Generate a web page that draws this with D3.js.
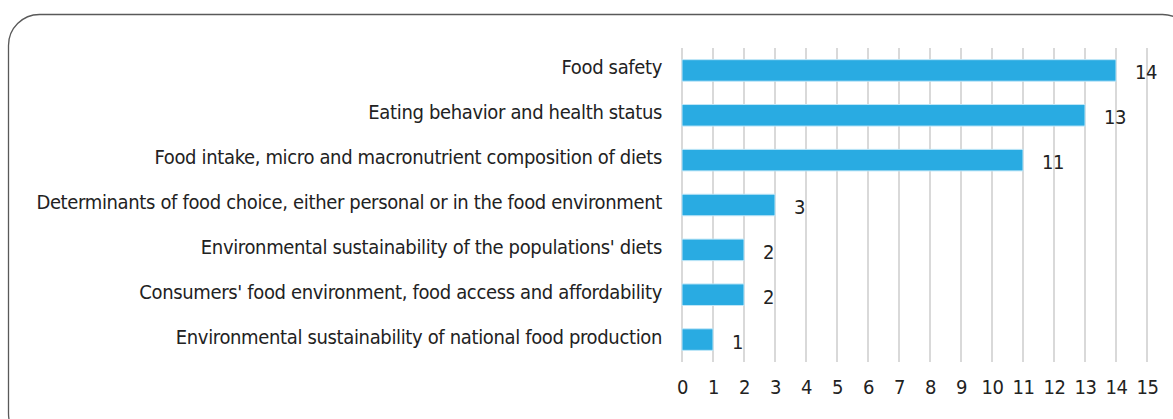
<!DOCTYPE html>
<html>
<head>
<meta charset="utf-8" />
<title>Topics of food studies</title>
<script src="https://d3js.org/d3.v7.min.js"></script>
<style>
    body { margin: 0; background: #fff; }
    svg text { font-family: "DejaVu Sans Condensed", "Open Sans", sans-serif; fill: #222; letter-spacing: -0.35px; }
</style>
</head>
<body>
<svg id="chart" width="1173" height="419"></svg>
<script>

// categories, top to bottom
var topics = [
    "Food safety",
    "Eating behavior and health status",
    "Food intake, micro and macronutrient composition of diets",
    "Determinants of food choice, either personal or in the food environment",
    "Environmental sustainability of the populations' diets",
    "Consumers' food environment, food access and affordability",
    "Environmental sustainability of national food production"
];
var counts = [14, 13, 11, 3, 2, 2, 1];
var tickValues = [0, 1, 2, 3, 4, 5, 6, 7, 8, 9, 10, 11, 12, 13, 14, 15];

var svg = d3.select("#chart");

// rounded frame, runs off the right and bottom
svg.append("rect")
    .attr("x", 8.5).attr("y", 14.5)
    .attr("width", 1185).attr("height", 430)
    .attr("rx", 31).attr("ry", 31)
    .attr("fill", "none")
    .attr("stroke", "#595959")
    .attr("stroke-width", 1.3);

var x = d3.scaleLinear().domain([0, 15]).range([682, 1147]);
var y = d3.scaleBand().domain(topics).range([48, 362]).paddingInner(0.52).paddingOuter(0.26);

// gridlines
svg.append("g").selectAll("line")
    .data(tickValues)
    .enter().append("line")
    .attr("x1", function(d){ return x(d); })
    .attr("x2", function(d){ return x(d); })
    .attr("y1", 48).attr("y2", 362)
    .attr("stroke", "#d9d9d9")
    .attr("stroke-width", 2);

// x axis labels
var xAxis = d3.axisBottom(x).tickValues(tickValues).tickSize(0).tickPadding(0);
var gx = svg.append("g")
    .attr("transform", "translate(0,380)")
    .call(xAxis);
gx.select(".domain").remove();
gx.selectAll("text").attr("font-size", 20).attr("fill", "#222")
    .attr("font-family", null).attr("dy", "0.7em");

// category labels
var yAxis = d3.axisLeft(y).tickSize(0).tickPadding(0);
var gy = svg.append("g")
    .attr("transform", "translate(662,0)")
    .call(yAxis);
gy.select(".domain").remove();
gy.selectAll("text").attr("font-size", 20).attr("fill", "#222")
    .attr("font-family", null).attr("dy", "0.2em");

// bars
svg.append("g").selectAll("rect")
    .data(counts)
    .enter().append("rect")
    .attr("x", x(0))
    .attr("y", function(d, i){ return y(topics[i]); })
    .attr("width", function(d){ return x(d) - x(0); })
    .attr("height", y.bandwidth())
    .attr("fill", "#29abe2")
    .attr("stroke", "#bfe6f7")
    .attr("stroke-width", 1);

// value labels
svg.append("g").selectAll("text")
    .data(counts)
    .enter().append("text")
    .attr("x", function(d){ return x(d) + 19; })
    .attr("y", function(d, i){ return y(topics[i]) + y.bandwidth() / 2; })
    .attr("dy", "0.45em")
    .attr("font-size", 20)
    .text(function(d){ return d; });

</script>
</body>
</html>
